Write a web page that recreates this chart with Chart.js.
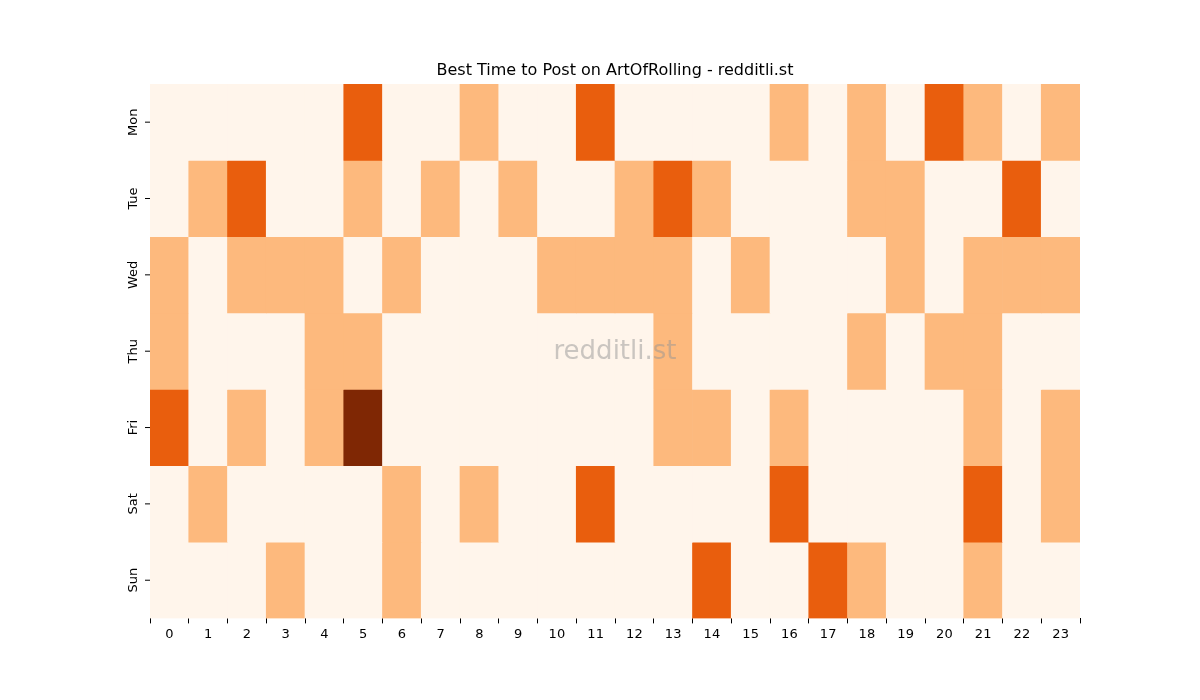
<!DOCTYPE html>
<html><head><meta charset="utf-8">
<script src="https://cdn.jsdelivr.net/npm/chart.js@4"></script>
<style>html,body{margin:0;padding:0;background:#fff}#wrap{width:1200px;height:700px}</style>
</head><body><div id="wrap"><canvas id="c"></canvas></div>
<script>
const hours = Array.from({length:24},(_,i)=>String(i));
const days = ["Mon","Tue","Wed","Thu","Fri","Sat","Sun"];
const mon = [0,0,0,0,0,2,0,0,1,0,0,2,0,0,0,0,1,0,1,0,2,1,0,1];
const tue = [0,1,2,0,0,1,0,1,0,1,0,0,1,2,1,0,0,0,1,1,0,0,2,0];
const wed = [1,0,1,1,1,0,1,0,0,0,1,1,1,1,0,1,0,0,0,1,0,1,1,1];
const thu = [1,0,0,0,1,1,0,0,0,0,0,0,0,1,0,0,0,0,1,0,1,1,0,0];
const fri = [2,0,1,0,1,3,0,0,0,0,0,0,0,1,1,0,1,0,0,0,0,1,0,1];
const sat = [0,1,0,0,0,0,1,0,1,0,0,2,0,0,0,0,2,0,0,0,0,2,0,1];
const sun = [0,0,0,1,0,0,1,0,0,0,0,0,0,0,2,0,0,2,1,0,0,1,0,0];
const rows = [mon,tue,wed,thu,fri,sat,sun];
const palette = ["#fff5eb","#fdb97d","#e95e0d","#7f2704"];

const datasets = rows.map((r,i)=>({
  label: days[i],
  data: r.map(()=>[i, i+1]),
  backgroundColor: r.map(v=>palette[v]),
  borderWidth: 0,
  barPercentage: 1.0,
  categoryPercentage: 1.0,
  grouped: false
}));

const overlay = {
  id:'overlay',
  afterDraw(chart){
    const {ctx, chartArea:a, scales:{y}} = chart;
    ctx.save();
    ctx.fillStyle='#000';
    ctx.font='16px "DejaVu Sans"';
    ctx.textAlign='center'; ctx.textBaseline='bottom';
    ctx.fillText('Best Time to Post on ArtOfRolling - redditli.st', (a.left+a.right)/2, a.top-5);
    ctx.font='13px "DejaVu Sans"';
    ctx.strokeStyle='#000'; ctx.lineWidth=1;
    days.forEach((d,i)=>{
      const py = y.getPixelForValue(i+0.5);
      ctx.beginPath(); ctx.moveTo(a.left-5,py); ctx.lineTo(a.left,py); ctx.stroke();
      ctx.save(); ctx.translate(a.left-10,py); ctx.rotate(-Math.PI/2);
      ctx.textAlign='center'; ctx.textBaseline='bottom';
      ctx.fillText(d,0,0); ctx.restore();
    });
    ctx.font='26px "DejaVu Sans"';
    ctx.fillStyle='rgba(150,150,150,0.5)';
    ctx.textAlign='center'; ctx.textBaseline='middle';
    ctx.fillText('redditli.st', 615, 352);
    ctx.restore();
  }
};

new Chart(document.getElementById('c'), {
  type:'bar',
  data:{labels:hours, datasets},
  options:{
    responsive:true, maintainAspectRatio:false, animation:false,
    layout:{padding:{left:150,right:120,top:84,bottom:55}},
    plugins:{legend:{display:false}, tooltip:{enabled:false}},
    scales:{
      x:{grid:{drawOnChartArea:false, drawTicks:true, tickLength:5, color:'#000'},
         border:{display:false},
         ticks:{color:'#000', font:{size:13, family:'DejaVu Sans'}, maxRotation:0, padding:3}},
      y:{min:0, max:7, reverse:true, display:false}
    }
  },
  plugins:[overlay]
});
</script></body></html>
